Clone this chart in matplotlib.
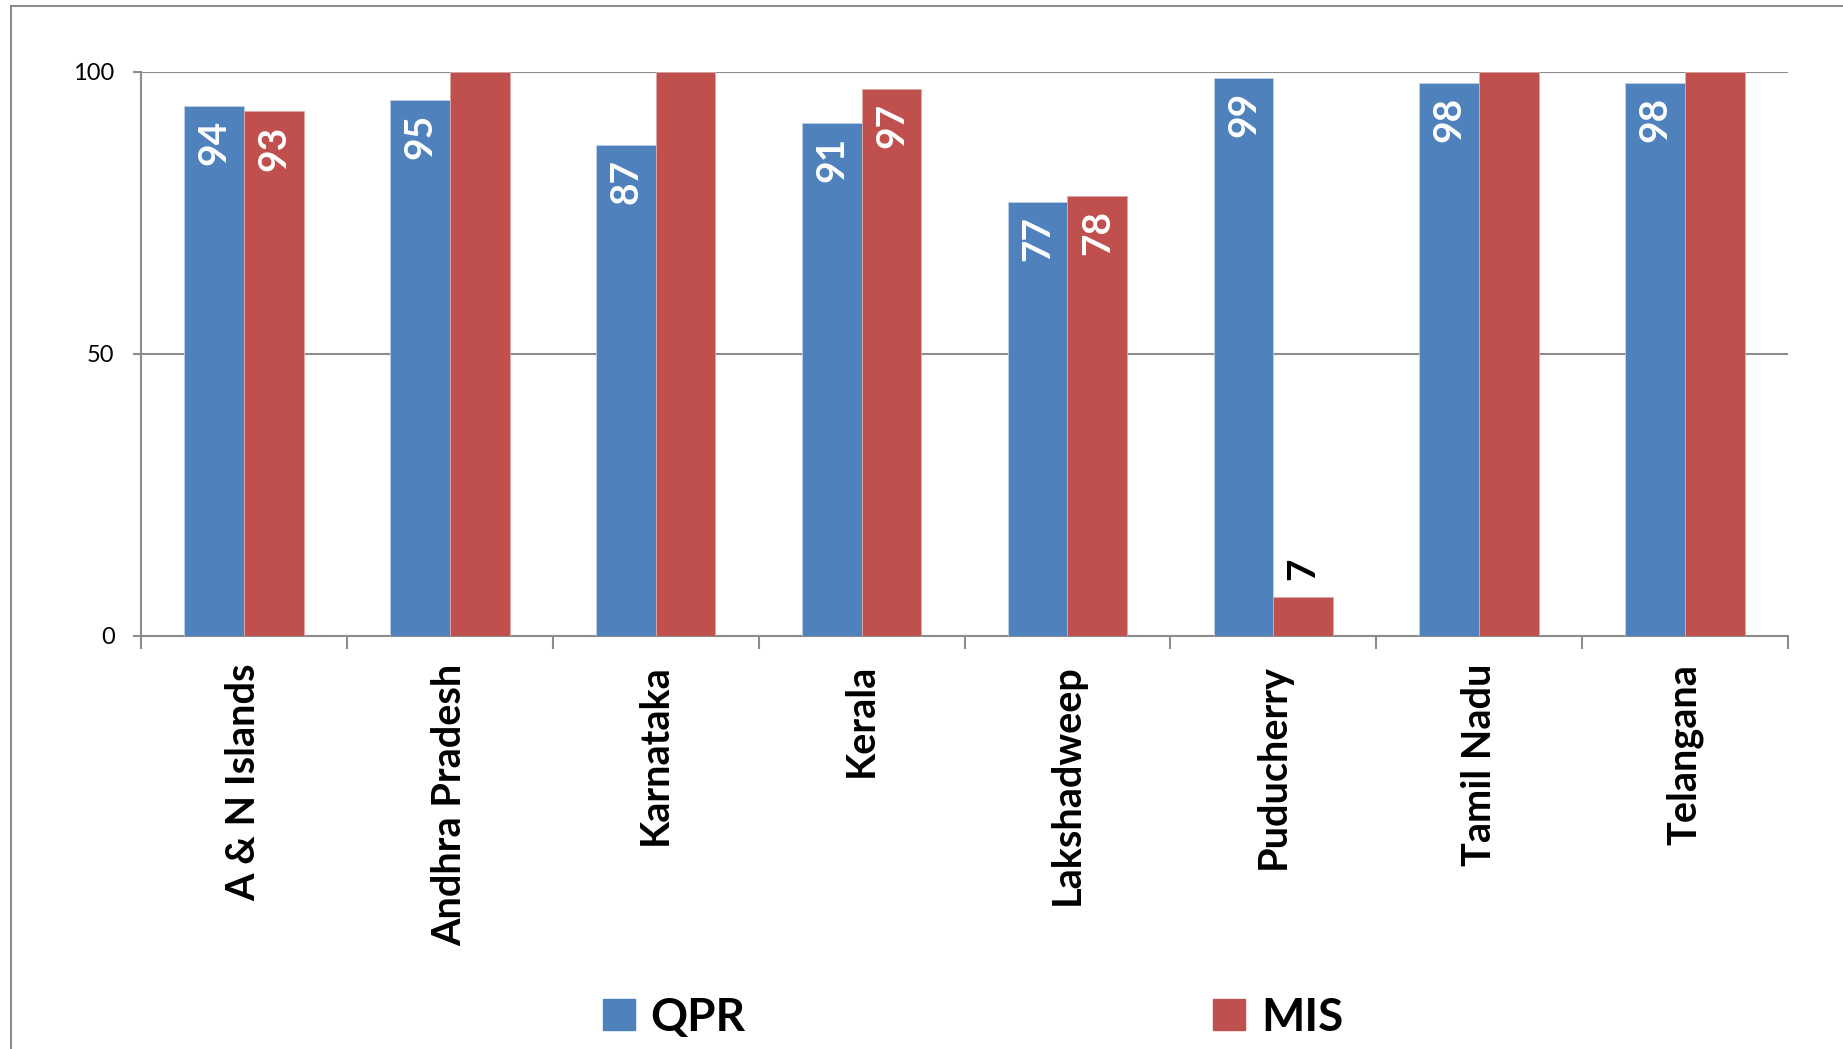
import numpy as np
import matplotlib
matplotlib.use('Agg')
import matplotlib.pyplot as plt
from matplotlib.patches import Rectangle, Patch

plt.rcParams['font.family'] = ['Lato', 'DejaVu Sans']

# 数据
states = ['A & N Islands', 'Andhra Pradesh', 'Karnataka', 'Kerala',
          'Lakshadweep', 'Puducherry', 'Tamil Nadu', 'Telangana']
qpr = [94, 95, 87, 91, 77, 99, 98, 98]
mis = [93, 100, 100, 97, 78, 7, 100, 100]
qpr_labels = ['94', '95', '87', '91', '77', '99', '98', '98']
mis_labels = ['93', '', '', '97', '78', '7', '', '']

BLUE = '#4F81BD'
RED = '#C0504D'
GRAY = '#8C8C8C'

fig = plt.figure(figsize=(18.43, 10.49), dpi=100)
ax = fig.add_axes([141 / 1843, 1 - 636 / 1049, (1788 - 141) / 1843, (636 - 72) / 1049])

x = np.arange(len(states)) + 0.5
w = 0.29
ax.bar(x - w / 2, qpr, w, color=BLUE, edgecolor='#BFD0E6', linewidth=0.6, zorder=3)
ax.bar(x + w / 2, mis, w, color=RED, edgecolor='#E0A9A7', linewidth=0.6, zorder=3)

# 数据标签
lbl = dict(rotation=90, ha='center', fontsize=28, fontweight='bold', zorder=4,
           textcoords='offset points')
for xi, v, t in zip(x - w / 2, qpr, qpr_labels):
    if t:
        ax.annotate(t, (xi, v), xytext=(0, -10), va='top', color='white', **lbl)
for xi, v, t in zip(x + w / 2, mis, mis_labels):
    if not t:
        continue
    if v < 20:
        ax.annotate(t, (xi, v), xytext=(0, 12), va='bottom', color='black', **lbl)
    else:
        ax.annotate(t, (xi, v), xytext=(0, -10), va='top', color='white', **lbl)

ax.set_xlim(0, len(states))
ax.set_ylim(0, 100)
ax.set_yticks([0, 50, 100])
ax.set_yticklabels(['0', '50', '100'], fontsize=17)
ax.set_xticks(x)
ax.set_xticklabels(states, rotation=90, fontsize=28.5, fontweight='bold', va='top', ha='center')
ax.set_xticks(np.arange(len(states) + 1), minor=True)
ax.tick_params(axis='x', which='major', length=0, pad=20)
ax.tick_params(axis='x', which='minor', length=9, color=GRAY, width=1.5)
ax.tick_params(axis='y', length=6, color=GRAY, width=1.5, pad=13)

ax.yaxis.grid(True, color=GRAY, linewidth=1.5, zorder=0)
ax.set_axisbelow(True)
for s in ['top', 'right']:
    ax.spines[s].set_visible(False)
for s in ['left', 'bottom']:
    ax.spines[s].set_color(GRAY)
    ax.spines[s].set_linewidth(1.5)

# 图例
handles = [Patch(color=BLUE, label='QPR'), Patch(color=RED, label='MIS')]
fig.legend(handles=handles, loc='center', bbox_to_anchor=(0.528, 0.03), ncol=2,
           frameon=False, prop={'size': 33, 'weight': 'bold'},
           handlelength=0.7, handleheight=0.65, handletextpad=0.35, columnspacing=10.2)

# 外框
fig.patches.append(Rectangle((11 / 1843, -0.1), 2, 1.0943, transform=fig.transFigure,
                             fill=False, edgecolor=GRAY, linewidth=1.5))

fig.savefig('out.png', dpi=100)
